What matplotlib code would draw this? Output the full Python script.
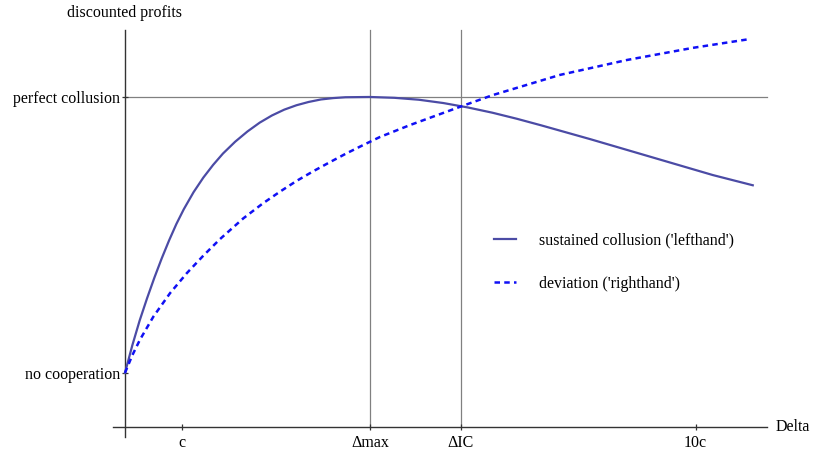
import matplotlib.pyplot as plt

plt.rcParams['font.family'] = ['Liberation Serif', 'DejaVu Serif']

# lefthand side: sustained collusion
x_left = [0, 0.03, 0.06, 0.09, 0.12, 0.15, 0.18, 0.21, 0.24, 0.28, 0.32,
          0.36, 0.40, 0.45, 0.50, 0.55, 0.60, 0.65, 0.70, 0.75, 0.80, 0.85,
          0.90, 1.0, 1.1, 1.2, 1.3, 1.4, 1.5, 1.6, 1.7, 1.8, 1.9, 2.0, 2.1,
          2.2, 2.3, 2.4, 2.563]
y_left = [0, 0.10, 0.19, 0.27, 0.345, 0.415, 0.48, 0.54, 0.593, 0.655, 0.708,
          0.754, 0.795, 0.838, 0.875, 0.907, 0.933, 0.954, 0.970, 0.982, 0.991,
          0.996, 0.999, 1.0, 0.997, 0.990, 0.978, 0.962, 0.943, 0.921, 0.897,
          0.872, 0.847, 0.821, 0.795, 0.769, 0.743, 0.717, 0.680]

# righthand side: deviation
x_right = [0, 0.03, 0.061, 0.116, 0.184, 0.252, 0.320, 0.388, 0.483, 0.564,
           0.633, 0.701, 0.769, 0.837, 0.905, 0.973, 1.041, 1.163, 1.376,
           1.502, 1.776, 2.049, 2.318, 2.551]
y_right = [0, 0.064, 0.120, 0.204, 0.289, 0.361, 0.425, 0.485, 0.560, 0.615,
           0.657, 0.696, 0.731, 0.764, 0.796, 0.826, 0.855, 0.898, 0.967,
           1.007, 1.080, 1.134, 1.178, 1.210]

x_ticks = [0.233, 1.0, 1.371, 2.33]
x_ticklabels = ['c', 'Δmax', 'ΔIC', '10c']
y_ticks = [0, 1]
y_ticklabels = ['no cooperation', 'perfect collusion']
d_max = 1.0
d_ic = 1.371

fig = plt.figure(figsize=(8.13, 4.54), dpi=100)
ax = fig.add_axes([0.123, 0.031, 0.824, 0.914])
ax.set_xlim(-0.102, 2.633)
ax.set_ylim(-0.243, 1.261)

# gray reference lines
ax.plot([0, 2.62], [1, 1], color='#808080', lw=0.9, zorder=1)
for xv in (d_max, d_ic):
    ax.plot([xv, xv], [-0.196, 1.243], color='#808080', lw=0.9, zorder=1)

ax.plot(x_left, y_left, color='#4B4BA5', lw=1.6,
        label="sustained collusion ('lefthand')", zorder=3)
ax.plot(x_right, y_right, color='#1010F5', lw=1.8, dashes=(2.2, 1.7),
        label="deviation ('righthand')", zorder=3)

# axes like the original
for s in ('top', 'right'):
    ax.spines[s].set_visible(False)
ax.spines['left'].set_position(('data', 0))
ax.spines['left'].set_bounds(-0.232, 1.243)
ax.spines['bottom'].set_position(('data', -0.196))
ax.spines['bottom'].set_bounds(-0.049, 2.62)
for s in ('left', 'bottom'):
    ax.spines[s].set_color('#333333')
    ax.spines[s].set_linewidth(1.0)

ax.set_xticks(x_ticks)
ax.set_xticklabels(x_ticklabels)
ax.set_yticks(y_ticks)
ax.set_yticklabels(y_ticklabels)
ax.tick_params(axis='both', direction='inout', length=5, width=0.9,
               color='#333333', labelsize=11.5)
ax.tick_params(axis='x', pad=3.5)
ax.tick_params(axis='y', pad=1)

ax.text(0, 1.275, 'discounted profits', ha='center', va='bottom', fontsize=11.5)
ax.text(2.655, -0.196, 'Delta', ha='left', va='center', fontsize=11.5)

ax.legend(loc='upper left', bbox_to_anchor=(0.566, 0.534), frameon=False,
          fontsize=11.5, handlelength=1.4, handletextpad=1.45, labelspacing=1.68)

fig.savefig('out.png', dpi=100)
